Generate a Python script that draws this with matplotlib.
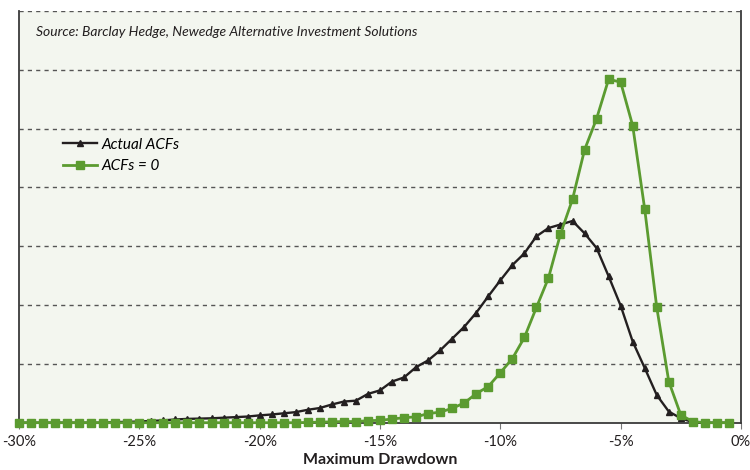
import numpy as np
import matplotlib.pyplot as plt

plt.rcParams['font.family'] = ['Lato', 'DejaVu Sans']

# Maximum drawdown buckets (%), every 0.5% from -30% to -0.5%
drawdown = np.arange(-30.0, 0.0, 0.5)

# Actual ACFs
actual_acfs = [0, 0, 0, 0, 0, 0, 0, 0,
               0.01, 0.015, 0.02, 0.03, 0.04, 0.055, 0.065, 0.07, 0.075, 0.085,
               0.095, 0.105, 0.125, 0.14, 0.16, 0.18, 0.22, 0.25, 0.31, 0.36,
               0.375, 0.49, 0.55, 0.70, 0.77, 0.945, 1.06, 1.23, 1.43, 1.63,
               1.87, 2.15, 2.42, 2.68, 2.88, 3.17, 3.31, 3.37, 3.43, 3.22,
               2.97, 2.49, 1.99, 1.38, 0.93, 0.47, 0.19, 0.075, 0.01, 0, 0, 0]

# ACFs = 0
zero_acfs = [0, 0, 0, 0, 0, 0, 0, 0, 0, 0, 0, 0, 0, 0, 0, 0, 0, 0, 0, 0,
             0, 0, 0, 0, 0.005, 0.01, 0.015, 0.02, 0.02, 0.035, 0.04, 0.063,
             0.085, 0.10, 0.155, 0.18, 0.245, 0.335, 0.495, 0.615, 0.85, 1.09,
             1.45, 1.96, 2.46, 3.21, 3.80, 4.64, 5.17, 5.84, 5.79, 5.05,
             3.63, 1.96, 0.70, 0.13, 0.02, 0, 0, 0]

x_ticks = [-30, -25, -20, -15, -10, -5, 0]
x_labels = ['-30%', '-25%', '-20%', '-15%', '-10%', '-5%', '0%']

black = '#231F20'
green = '#5B9B30'

fig = plt.figure(figsize=(7.5, 4.7), dpi=100)
ax = fig.add_axes([0.0253, 0.1006, 0.9627, 0.876])
ax.set_facecolor('#F3F6EF')

ax.plot(drawdown, actual_acfs, color=black, lw=1.7, marker='^', ms=4.5,
        label='Actual ACFs', clip_on=False, zorder=3)
ax.plot(drawdown, zero_acfs, color=green, lw=2.0, marker='s', ms=6,
        label='ACFs = 0', clip_on=False, zorder=4)

ax.set_xlim(-30, 0)
ax.set_ylim(0, 7)
ax.set_yticks(range(1, 8))
ax.set_yticklabels([])
ax.tick_params(axis='y', length=0)
ax.set_xticks(x_ticks)
ax.set_xticklabels(x_labels, fontsize=10.5, color='#231F20')
ax.tick_params(axis='x', direction='out', length=4, color='#777777', pad=5)
ax.yaxis.grid(True, color='#555555', ls=(0, (3, 3)), lw=1)
ax.set_axisbelow(True)

ax.spines['top'].set_visible(False)
for s in ['left', 'right', 'bottom']:
    ax.spines[s].set_color('#3A3A3A')
    ax.spines[s].set_linewidth(1.3)

ax.set_xlabel('Maximum Drawdown', fontsize=11.5, fontweight='bold', color='#231F20', labelpad=3)

ax.text(0.024, 0.95, 'Source: Barclay Hedge, Newedge Alternative Investment Solutions',
        transform=ax.transAxes, fontsize=10, style='italic', color='#231F20', va='center')

leg = ax.legend(loc='upper left', bbox_to_anchor=(0.061, 0.692), frameon=False,
                prop={'style': 'italic', 'size': 11}, handlelength=2.2,
                handletextpad=0.3, labelspacing=0.5, borderaxespad=0, borderpad=0)

fig.savefig('out.png', dpi=100)
